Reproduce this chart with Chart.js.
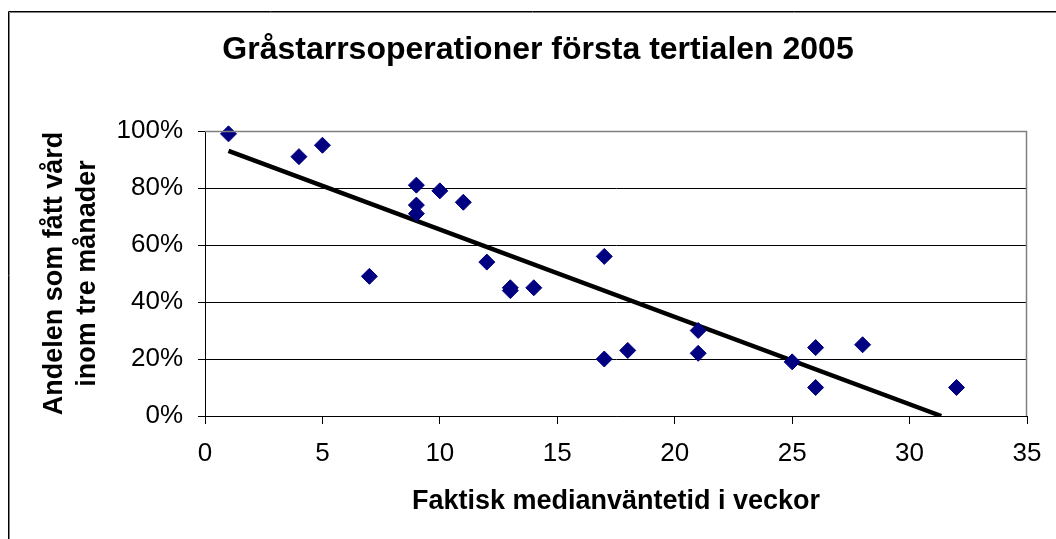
<!DOCTYPE html>
<html>
<head>
    <title>Gråstarrsoperationer första tertialen 2005</title>
    <script src="https://cdn.jsdelivr.net/npm/chart.js"></script>
    <style>
        body { margin: 0; background: #fff; }
        #wrap { width: 1056px; height: 539px; }
    </style>
</head>
<body>
<div id="wrap"><canvas id="myChart" width="1056" height="539"></canvas></div>

<script>
    // weeks (median waiting time) and share treated within three months
    var weeks = [1, 4, 5, 7, 9, 9, 9, 10, 11, 12, 13, 13, 14, 17, 17, 18, 21, 21, 25, 26, 26, 28, 32];
    var share = [0.99, 0.91, 0.95, 0.49, 0.81, 0.74, 0.71, 0.79, 0.75, 0.54, 0.45, 0.44, 0.45,
                 0.56, 0.20, 0.23, 0.30, 0.22, 0.19, 0.24, 0.10, 0.25, 0.10];

    // trend line end points
    var trendX = [1, 31.35];
    var trendY = [0.93, 0];

    var xTicks = [0, 5, 10, 15, 20, 25, 30, 35];
    var yTicks = [0, 0.2, 0.4, 0.6, 0.8, 1];

    var font = 'Liberation Sans, Arial, sans-serif';

    var points = weeks.map(function (w, i) { return { x: w, y: share[i] }; });
    var trend = trendX.map(function (t, i) { return { x: t, y: trendY[i] }; });

    // outer frame + plot area border
    var framePlugin = {
        id: 'frame',
        afterLayout(chart) {
            // title is centred on the whole frame, not on the plot
            chart.titleBlock.left = 49;
        },
        beforeDraw(chart) {
            var c = chart.ctx;
            c.save();
            c.strokeStyle = '#808080';
            c.lineWidth = 1;
            c.beginPath();
            c.moveTo(9.5, 539);
            c.lineTo(9.5, 12.5);
            c.lineTo(1056, 12.5);
            c.stroke();
            c.strokeStyle = '#000';
            c.beginPath();
            c.moveTo(8.5, 539);
            c.lineTo(8.5, 11.5);
            c.lineTo(1056, 11.5);
            c.stroke();
            c.restore();
        },
        afterDatasetsDraw(chart) {
            var a = chart.chartArea;
            var c = chart.ctx;
            c.save();
            c.strokeStyle = '#808080';
            c.lineWidth = 1.5;
            c.beginPath();
            c.moveTo(a.left, a.top + 0.5);
            c.lineTo(a.right - 0.5, a.top + 0.5);
            c.lineTo(a.right - 0.5, a.bottom);
            c.stroke();
            c.restore();
        }
    };

    var ctx = document.getElementById('myChart').getContext('2d');
    var myChart = new Chart(ctx, {
        type: 'scatter',
        data: {
            datasets: [{
                label: 'Andel',
                data: points,
                backgroundColor: '#000080',
                borderColor: '#000080',
                borderWidth: 1,
                pointStyle: 'rectRot',
                pointRadius: 8,
                pointHoverRadius: 8,
                clip: false,
                order: 1
            }, {
                type: 'line',
                label: 'Trend',
                data: trend,
                borderColor: '#000',
                borderWidth: 4.5,
                pointRadius: 0,
                fill: false,
                order: 2
            }]
        },
        options: {
            responsive: false,
            animation: false,
            layout: { padding: { left: 0, right: 29, top: 0, bottom: 0 } },
            plugins: {
                legend: { display: false },
                tooltip: { enabled: false },
                title: {
                    display: true,
                    text: 'Gråstarrsoperationer första tertialen 2005',
                    color: '#000',
                    font: { family: font, size: 32, weight: 'bold' },
                    padding: { top: 31, bottom: 61.6 }
                }
            },
            scales: {
                x: {
                    type: 'linear',
                    min: 0,
                    max: 35,
                    afterBuildTicks(axis) {
                        axis.ticks = xTicks.map(function (v) { return { value: v }; });
                    },
                    afterFit(axis) { axis.height = 123; },
                    border: { color: '#000', width: 1 },
                    grid: { drawOnChartArea: false, drawTicks: true, tickLength: 8, color: '#000' },
                    ticks: { color: '#000', padding: 14, font: { family: font, size: 26 } },
                    title: {
                        display: true,
                        text: 'Faktisk medianväntetid i veckor',
                        color: '#000',
                        font: { family: font, size: 27, weight: 'bold' },
                        padding: { top: 0, bottom: 21 }
                    }
                },
                y: {
                    min: 0,
                    max: 1,
                    afterBuildTicks(axis) {
                        axis.ticks = yTicks.map(function (v) { return { value: v }; });
                    },
                    afterFit(axis) { axis.width = 205; },
                    border: { color: '#000', width: 1 },
                    grid: { color: '#000', lineWidth: 1, drawTicks: true, tickLength: 7 },
                    ticks: {
                        color: '#000',
                        padding: 15,
                        font: { family: font, size: 26 },
                        callback: function (v) { return Math.round(v * 100) + '%'; }
                    },
                    title: {
                        display: true,
                        text: ['Andelen som fått vård', 'inom tre månader'],
                        color: '#000',
                        font: { family: font, size: 27, weight: 'bold', lineHeight: 1.22 },
                        padding: { top: 38, bottom: 0 }
                    }
                }
            }
        },
        plugins: [framePlugin]
    });
</script>

</body>
</html>
